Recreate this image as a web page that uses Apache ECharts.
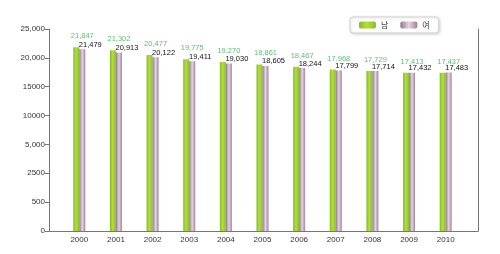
<!DOCTYPE html>
<html><head><meta charset="utf-8">
<script src="https://cdn.jsdelivr.net/npm/echarts@6/dist/echarts.min.js"></script>
<style>html,body{margin:0;padding:0;background:#fff}#c{width:500px;height:254px}</style>
</head><body><div id="c"></div>
<script>
const years = ['2000','2001','2002','2003','2004','2005','2006','2007','2008','2009','2010'];
const male = [21847,21302,20477,19775,19270,18861,18467,17968,17729,17413,17437];
const female = [21479,20913,20122,19411,19030,18605,18244,17799,17714,17432,17483];
const yTickLabels = ['0','500','2500','5,000','10000','15000','20,000','25,000'];
const seriesNames = ['남','여'];

const fmt = n => n.toLocaleString('en-US');
const yMin = -10000, yMax = 25000, yStep = 5000;
const font = 'Liberation Sans, Arial, sans-serif';

const maleColor = {type:'linear',x:0,y:0,x2:1,y2:0,colorStops:[
  {offset:0,color:'#7cbc2a'},{offset:0.45,color:'#b8dc3c'},{offset:1,color:'#86c22e'}]};
const femaleColor = {type:'linear',x:0,y:0,x2:1,y2:0,colorStops:[
  {offset:0,color:'#8a7a8a'},{offset:0.5,color:'#ead2e4'},{offset:1,color:'#9a8598'}]};

const chart = echarts.init(document.getElementById('c'), null, {renderer:'canvas'});
chart.setOption({
  animation:false,
  backgroundColor:'#fff',
  textStyle:{fontFamily:font},
  legend:{
    left:350, top:17, orient:'horizontal',
    backgroundColor:'#fff', borderColor:'#d0d0d0', borderWidth:1, borderRadius:3,
    shadowColor:'rgba(0,0,0,0.15)', shadowBlur:3, shadowOffsetX:1, shadowOffsetY:1,
    padding:[4,9,4,9], itemWidth:17, itemHeight:7, itemGap:12,
    textStyle:{fontSize:8,color:'#333',fontFamily:'Noto Sans CJK KR'},
    data:seriesNames
  },
  grid:[
    {left:61, right:36, top:29, bottom:23},
    {left:49, right:22, top:29, bottom:23}
  ],
  xAxis:[
    {type:'category', gridIndex:0, data:years, boundaryGap:true,
     axisLine:{show:false}, axisTick:{show:false},
     axisLabel:{fontSize:8, color:'#333', margin:5}},
    {type:'value', gridIndex:1, min:0, max:1, show:true,
     axisLine:{show:true, onZero:false, lineStyle:{color:'#777', width:1}},
     axisTick:{show:false}, axisLabel:{show:false}, splitLine:{show:false}}
  ],
  yAxis:[
    {type:'value', gridIndex:0, min:yMin, max:yMax, interval:yStep, startValue:yMin,
     show:false, splitLine:{show:false}},
    {type:'value', gridIndex:1, min:yMin, max:yMax, interval:yStep, position:'left',
     axisLine:{show:true, onZero:false, lineStyle:{color:'#777', width:1}},
     axisTick:{show:true, length:4, lineStyle:{color:'#777'}},
     axisLabel:{fontSize:8, color:'#333', margin:4,
       formatter:v => yTickLabels[Math.round((v - yMin)/yStep)]},
     splitLine:{show:false}},
    {type:'value', gridIndex:1, min:yMin, max:yMax, interval:yStep, position:'right',
     axisLine:{show:true, onZero:false, lineStyle:{color:'#777', width:1}},
     axisTick:{show:false}, axisLabel:{show:false}, splitLine:{show:false}}
  ],
  series:[
    {name:seriesNames[0], type:'bar', xAxisIndex:0, yAxisIndex:0, data:male,
     barWidth:6, barGap:'0%', itemStyle:{color:maleColor},
     label:{show:true, position:'top', offset:[6,-2], fontSize:7.5, color:'#5cbf6e',
       formatter:p => fmt(p.value)}},
    {name:seriesNames[1], type:'bar', xAxisIndex:0, yAxisIndex:0, data:female,
     barWidth:6, barGap:'0%', itemStyle:{color:femaleColor},
     label:{show:true, position:'top', offset:[8,4.5], fontSize:7.5, color:'#111',
       formatter:p => fmt(p.value)}}
  ]
});
</script></body></html>
